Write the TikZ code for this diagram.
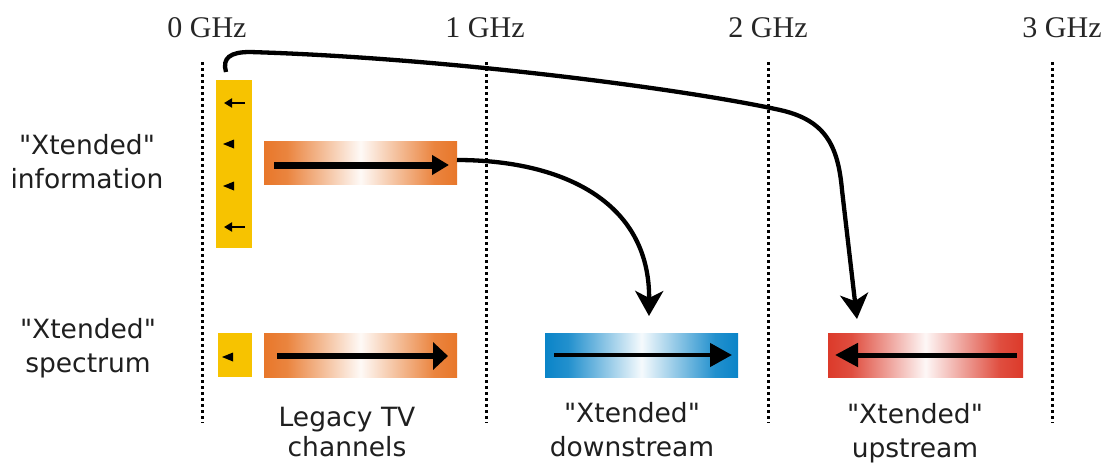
\documentclass[tikz,border=0pt]{standalone}
\usepackage{fontspec}
\setmainfont{Liberation Serif}
\newfontfamily\labfont{DejaVu Sans}
\usetikzlibrary{arrows.meta}
\definecolor{cyel}{HTML}{F7C300}
\definecolor{corg}{HTML}{E8772A}
\definecolor{cblu}{HTML}{0A84C8}
\definecolor{cred}{HTML}{DC3A2A}
\pgfdeclarehorizontalshading{shorg}{100bp}{color(0bp)=(corg); color(25bp)=(corg); color(31bp)=(corg!90!white); color(41bp)=(corg!45!white); color(50bp)=(corg!4!white); color(59bp)=(corg!45!white); color(69bp)=(corg!90!white); color(75bp)=(corg); color(100bp)=(corg)}
\pgfdeclarehorizontalshading{shblu}{100bp}{color(0bp)=(cblu); color(25bp)=(cblu); color(31bp)=(cblu!90!white); color(41bp)=(cblu!45!white); color(50bp)=(cblu!4!white); color(59bp)=(cblu!45!white); color(69bp)=(cblu!90!white); color(75bp)=(cblu); color(100bp)=(cblu)}
\pgfdeclarehorizontalshading{shred}{100bp}{color(0bp)=(cred); color(25bp)=(cred); color(31bp)=(cred!90!white); color(41bp)=(cred!45!white); color(50bp)=(cred!4!white); color(59bp)=(cred!45!white); color(69bp)=(cred!90!white); color(75bp)=(cred); color(100bp)=(cred)}
\begin{document}
\begin{tikzpicture}[x=1pt,y=-1pt,
  bar/.style={inner sep=0pt, outer sep=0pt, draw=none},
  grad/.style={bar, shading=#1},
  ghz/.style={font=\fontsize{30}{32}\selectfont, text=black!85, anchor=base},
  lab/.style={font=\labfont\fontsize{26.5}{#1}\selectfont, align=center, text=black!88, inner sep=0pt},
  dotl/.style={line width=3pt, dash pattern=on 3pt off 3pt},
  bigarrow/.style={line width=4.3pt, -{Stealth[length=25pt,width=28pt,inset=7pt]}},
  smallhead/.style={fill=black}
]
\useasboundingbox (0,0) rectangle (1112,464);
\fill[white] (0,0) rectangle (1112,464);

% frequency grid
\foreach \x in {202,486,768,1052}{
  \draw[dotl] (\x,62) -- (\x,423);
}
\node[ghz] (g0) at (207,37) {0 GHz};
\node[ghz] (g1) at (485,37) {1 GHz};
\node[ghz] (g2) at (768,37) {2 GHz};
\node[ghz] (g3) at (1062,37) {3 GHz};

% row labels
\node[lab=34] (linfo) at (87,162) {"Xtended"\\information};
\node[lab=34] (lspec) at (88,348) {"Xtended"\\spectrum};

% information row
\node[bar, fill=cyel, minimum width=36pt, minimum height=168pt] (yt) at (234,164) {};
\node[grad=shorg, minimum width=193pt, minimum height=43pt] (ot) at (360.5,162.5) {};

% spectrum row
\node[bar, fill=cyel, minimum width=34pt, minimum height=44pt] (yb) at (235,355) {};
\node[grad=shorg, minimum width=193pt, minimum height=44pt] (ob) at (360.5,355) {};
\node[grad=shblu, minimum width=193pt, minimum height=44pt] (bl) at (641.5,355) {};
\node[grad=shred, minimum width=195pt, minimum height=44pt] (rd) at (925.5,355) {};

% bottom labels
\node[lab=30] (llegacy) at (347,432) {Legacy TV\\channels};
\node[lab=34] (ldown) at (632,430) {"Xtended"\\downstream};
\node[lab=34] (lup) at (915,433) {"Xtended"\\upstream};

% small arrows in yellow bars
\draw[line width=1.8pt, -{Triangle[length=8pt,width=9pt]}] (245,103) -- (224,103);
\draw[line width=1.8pt, -{Triangle[length=8pt,width=9pt]}] (245,227) -- (224,227);
\fill[smallhead] (223,144) -- (234,139.5) -- (234,148.5) -- cycle;
\fill[smallhead] (223,186) -- (234,181.5) -- (234,190.5) -- cycle;
\fill[smallhead] (222,357) -- (233,352.5) -- (233,361.5) -- cycle;

% arrows inside bars
\draw[line width=7pt, -{Triangle[length=17pt,width=19pt]}] ([xshift=10pt,yshift=-2.5pt]ot.west) -- ([xshift=-8pt,yshift=-2.5pt]ot.east);
\draw[line width=6pt, -{Triangle[length=15pt,width=27pt]}] ([xshift=13pt,yshift=-1pt]ob.west) -- ([xshift=-9pt,yshift=-1pt]ob.east);
\draw[line width=4.5pt, -{Triangle[length=22pt,width=23pt]}] ([xshift=9pt]bl.west) -- ([xshift=-6pt]bl.east);
\draw[line width=5pt, -{Triangle[length=23pt,width=23pt]}] ([xshift=-6pt]rd.east) -- ([xshift=7pt]rd.west);

% mapping arrows
\coordinate (t1) at (649,316);
\coordinate (s2) at (226,72);
\coordinate (t2) at (857,319);
\draw[bigarrow] ([yshift=2.5pt]ot.east) .. controls (560,160) and (650,200) .. (t1);
\draw[bigarrow] (s2) .. controls (222,58) and (230,52) .. (250,52)
  .. controls (450,58) and (690,90) .. (780,110)
  .. controls (825,120) and (838,145) .. (842,190) -- (t2);
\end{tikzpicture}
\end{document}
